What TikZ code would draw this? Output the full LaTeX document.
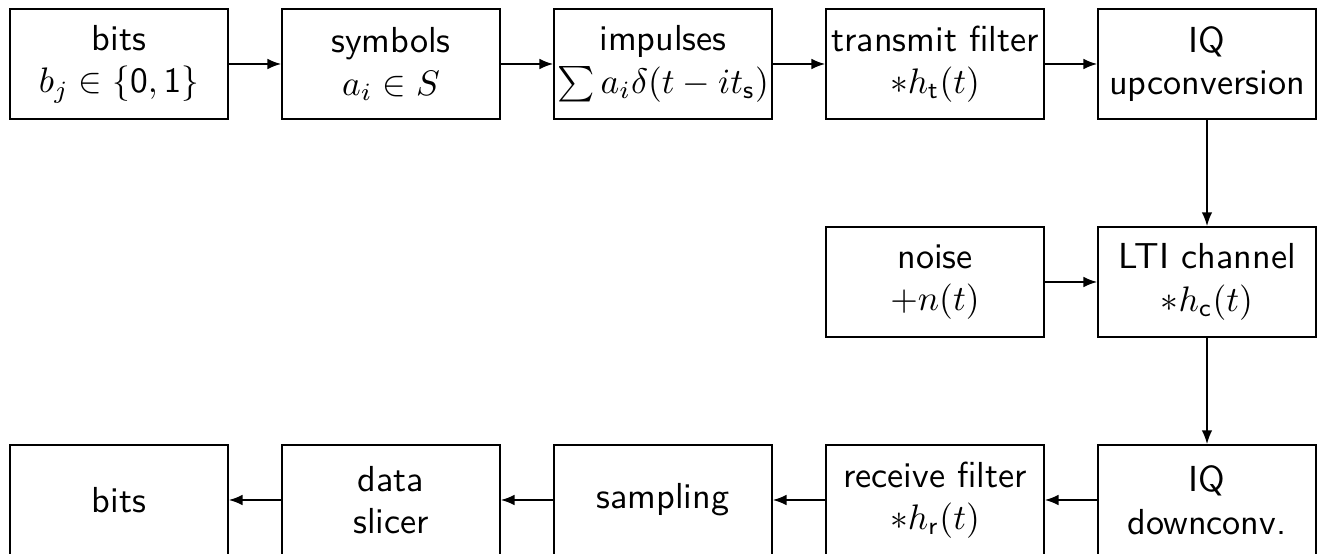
\documentclass[tikz,border=0pt]{standalone}
\usetikzlibrary{arrows.meta}
\begin{document}
\begin{tikzpicture}[x=0.282pt,y=-0.282pt,
  blk/.style={draw,line width=0.5pt,minimum width=61.4pt,minimum height=31pt,inner sep=0pt,align=center,font=\fontsize{10.2}{12}\selectfont\sffamily},
  conn/.style={-{Latex[length=3.9pt,width=3pt]},line width=0.5pt}]
\useasboundingbox (0,0) rectangle (1323,554);
% row 1
\node[blk] (bits) at (119,64) {bits\\$b_j \in \{\mathsf{0},\mathsf{1}\}$};
\node[blk] (sym) at (391,64) {symbols\\$a_i \in S$};
\node[blk] (imp) at (663,64) {impulses\\$\sum a_i\delta(t - i t_{\mathsf{s}})$};
\node[blk] (tx) at (935,64) {transmit filter\\$*h_{\mathsf{t}}(t)$};
\node[blk] (up) at (1207,64) {IQ\\upconversion};
% row 2
\node[blk] (noise) at (935,282) {noise\\$+n(t)$};
\node[blk] (lti) at (1207,282) {LTI channel\\$*h_{\mathsf{c}}(t)$};
% row 3
\node[blk] (down) at (1207,500) {IQ\\downconv.};
\node[blk] (rx) at (935,500) {receive filter\\$*h_{\mathsf{r}}(t)$};
\node[blk] (samp) at (663,500) {sampling};
\node[blk] (slice) at (391,500) {data\\slicer};
\node[blk] (obits) at (119,500) {bits};
% connectors
\draw[conn] (bits) -- (sym);
\draw[conn] (sym) -- (imp);
\draw[conn] (imp) -- (tx);
\draw[conn] (tx) -- (up);
\draw[conn] (up) -- (lti);
\draw[conn] (noise) -- (lti);
\draw[conn] (lti) -- (down);
\draw[conn] (down) -- (rx);
\draw[conn] (rx) -- (samp);
\draw[conn] (samp) -- (slice);
\draw[conn] (slice) -- (obits);
\end{tikzpicture}
\end{document}
